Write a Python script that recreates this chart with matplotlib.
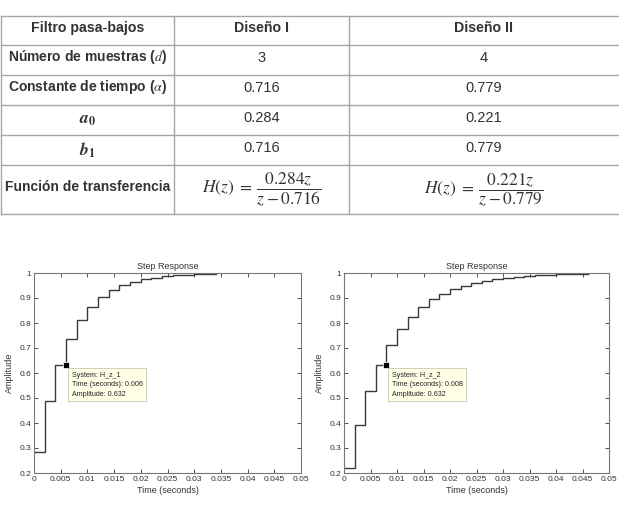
import numpy as np
import matplotlib
matplotlib.use('Agg')
import matplotlib.pyplot as plt

plt.rcParams['mathtext.fontset'] = 'stix'
plt.rcParams['font.family'] = ['Liberation Sans', 'DejaVu Sans']

# ─── Tabla de diseño ──────────────────────────────────────────────────────────
col_headers = ["Filtro pasa-bajos", "Diseño I", "Diseño II"]
row_labels = ["Número de muestras ($d$)", "Constante de tiempo ($\\alpha$)",
              "$\\mathbfit{a}_\\mathbf{0}$", "$\\mathbfit{b}_\\mathbf{1}$",
              "Función de transferencia"]
design_1 = ["3", "0.716", "0.284", "0.716", r"$H(z)\;=\;\dfrac{0.284z}{z - 0.716}$"]
design_2 = ["4", "0.779", "0.221", "0.779", r"$H(z)\;=\;\dfrac{0.221z}{z - 0.779}$"]

# ─── Respuestas al escalón ───────────────────────────────────────────────────
Ts = 0.002
step_1 = [0.284, 0.487, 0.632, 0.737, 0.812, 0.865, 0.903, 0.931, 0.951,
          0.965, 0.975, 0.982, 0.987, 0.991, 0.993, 0.995, 0.997, 0.998]
step_2 = [0.221, 0.393, 0.527, 0.632, 0.713, 0.777, 0.826, 0.865, 0.895,
          0.918, 0.936, 0.950, 0.961, 0.970, 0.977, 0.982, 0.986, 0.989,
          0.992, 0.994, 0.995, 0.996, 0.997, 0.998]
tips = [("H_z_1", 0.006, 0.632), ("H_z_2", 0.008, 0.632)]

W, H = 619, 515
fig = plt.figure(figsize=(W / 100, H / 100), dpi=100)

# overlay en píxeles para la tabla
tab = fig.add_axes([0, 0, 1, 1])
tab.set_xlim(0, W)
tab.set_ylim(H, 0)
tab.axis('off')

col_x = [0.5, 174, 349, 619]
row_y = [16, 45, 75, 105, 135, 165, 214]
line_c = "#a6a6a6"
for y in row_y:
    tab.plot([col_x[0], col_x[-1]], [y, y], color=line_c, lw=1)
for x in col_x[:-1]:
    tab.plot([x, x], [row_y[0], row_y[-1]], color=line_c, lw=1)

txt_c = "#333333"
dy = -2.5
centers = [(col_x[i] + col_x[i + 1]) / 2 for i in range(3)]
yc = (row_y[0] + row_y[1]) / 2 + dy
for cx, h in zip(centers, col_headers):
    tab.text(cx, yc, h, ha='center', va='center', fontsize=10.2,
             fontweight='bold', color=txt_c)
for i, (lab, v1, v2) in enumerate(zip(row_labels, design_1, design_2)):
    yc = (row_y[i + 1] + row_y[i + 2]) / 2
    is_math = lab.startswith("$")
    tab.text(centers[0], yc + (0 if is_math else dy), lab, ha='center', va='center',
             fontsize=12.5 if is_math else 10.0, fontweight='bold', color=txt_c)
    frac = v1.startswith("$")
    fsv = 12.5 if frac else 10.5
    off = 0 if frac else dy
    tab.text(centers[1], yc + off, v1, ha='center', va='center', fontsize=fsv, color=txt_c)
    tab.text(centers[2], yc + off, v2, ha='center', va='center', fontsize=fsv, color=txt_c)

# ─── Gráficas de respuesta al escalón ────────────────────────────────────────
positions = [[34 / W, 42 / H, 267 / W, 200 / H],
             [344 / W, 42 / H, 265 / W, 200 / H]]

for pos, data, tip in zip(positions, [step_1, step_2], tips):
    ax = fig.add_axes(pos)
    t = np.arange(len(data)) * Ts
    ax.step(t, data, where='post', color="#3a3a3a", lw=1)
    ax.set_xlim(0, 0.05)
    ax.set_ylim(0.2, 1)
    xt = np.arange(0, 0.0501, 0.005)
    ax.set_xticks(xt)
    ax.set_xticklabels(["0"] + [f"{v:g}" for v in xt[1:]])
    ax.set_yticks(np.arange(0.2, 1.01, 0.1))
    ax.set_yticklabels(["0.2", "0.3", "0.4", "0.5", "0.6", "0.7", "0.8", "0.9", "1"])
    ax.tick_params(direction='in', length=3, width=0.6, labelsize=6,
                   colors="#333333", top=True, right=True, pad=2)
    for s in ax.spines.values():
        s.set_color("#777777")
        s.set_linewidth(0.8)
    ax.set_title("Step Response", fontsize=6.5, color="#333333", pad=3)
    ax.set_xlabel("Time (seconds)", fontsize=6.5, color="#333333", labelpad=2)
    ax.set_ylabel("Amplitude", fontsize=6.5, color="#333333", labelpad=4)

    name, tx, ty = tip
    ax.plot([tx], [ty], marker='s', ms=4.5, color='black', mec='white', mew=0.5)
    ax.annotate(f"System: {name}\nTime (seconds): {tx:g}\nAmplitude: {ty:.3f}",
                xy=(tx, ty), xytext=(4, -5), textcoords='offset points',
                ha='left', va='top', fontsize=5.1, color="#222222", linespacing=1.5,
                bbox=dict(boxstyle='square,pad=0.5', fc="#ffffe6", ec="#c8c8b4", lw=0.6))

plt.savefig("out.png", dpi=100)
plt.close()
